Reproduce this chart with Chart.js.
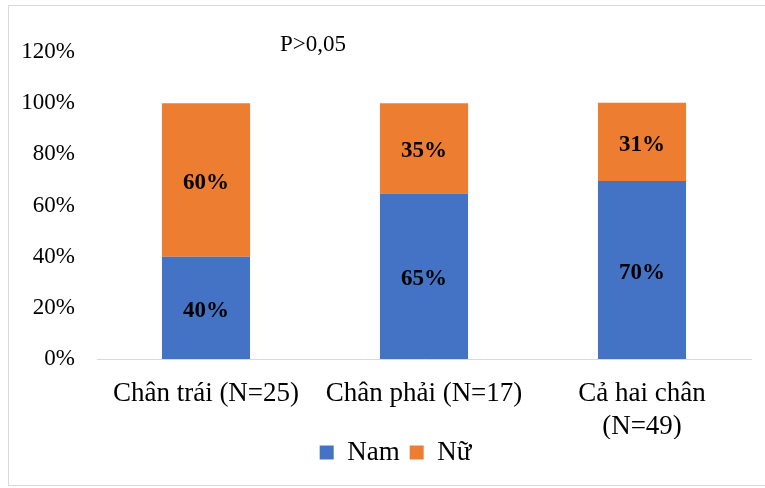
<!DOCTYPE html>
<html>
<head>
<meta charset="utf-8">
<script src="https://cdn.jsdelivr.net/npm/chart.js@4/dist/chart.umd.min.js"></script>
<style>
  body { margin: 0; background: #fff; }
  #wrap { position: relative; width: 765px; height: 488px; }
  #frame { position: absolute; left: 8px; top: 5px; width: 770px; height: 479px; border: 1px solid #d9d9d9; pointer-events: none; }
</style>
</head>
<body>
<div id="wrap">
  <canvas id="myChart" width="765" height="488"></canvas>
  <div id="frame"></div>
</div>
<script>
var categories = ['Chân trái (N=25)', 'Chân phải (N=17)', ['Cả hai chân', '(N=49)']];
var nam = [40, 64.7, 69.6];
var nu = [60, 35.3, 30.6];
var yTicks = [0, 20, 40, 60, 80, 100, 120];
var note = 'P>0,05';

var serif = "'Liberation Serif', 'Times New Roman', serif";

// bar value labels, drawn at the centre of each bar element
var barLabels = {
  id: 'barLabels',
  afterDatasetsDraw: function (chart) {
    var ctx = chart.ctx;
    ctx.save();
    ctx.font = 'bold 23px ' + serif;
    ctx.fillStyle = '#000';
    ctx.textAlign = 'center';
    ctx.textBaseline = 'middle';
    chart.data.datasets.forEach(function (ds, i) {
      chart.getDatasetMeta(i).data.forEach(function (bar, j) {
        var c = bar.getCenterPoint();
        ctx.fillText(Math.round(ds.data[j]) + '%', c.x, c.y + 3);
      });
    });
    // p-value note
    ctx.font = '23px ' + serif;
    ctx.fillText(note, 313, 45);
    ctx.restore();
  }
};

// nudge the legend a bit right and up, like the original
var legendShift = {
  id: 'legendShift',
  afterLayout: function (chart) {
    var lg = chart.legend;
    lg.left += 40;
    lg.top -= 10;
    lg.bottom -= 10;
  }
};

var ctx = document.getElementById('myChart').getContext('2d');
var myChart = new Chart(ctx, {
  type: 'bar',
  data: {
    labels: categories,
    datasets: [{
      label: 'Nam',
      data: nam,
      backgroundColor: '#4472C4'
    }, {
      label: 'Nữ',
      data: nu,
      backgroundColor: '#ED7D31'
    }]
  },
  options: {
    responsive: false,
    animation: false,
    events: [],
    categoryPercentage: 1,
    barPercentage: 0.404,
    layout: { padding: { left: 0, right: 14, top: 52, bottom: 2 } },
    plugins: {
      tooltip: { enabled: false },
      legend: {
        position: 'bottom',
        labels: {
          boxWidth: 14,
          boxHeight: 14,
          padding: 10,
          color: '#000',
          font: { family: serif, size: 27 }
        }
      }
    },
    scales: {
      x: {
        stacked: true,
        grid: { display: false },
        border: { color: '#d9d9d9', width: 1 },
        ticks: {
          color: '#000',
          padding: 11,
          maxRotation: 0,
          autoSkip: false,
          font: { family: serif, size: 27, lineHeight: 1.2 }
        },
        afterFit: function (s) { s.height = 80; }
      },
      y: {
        stacked: true,
        min: 0,
        max: 120,
        grid: { display: false, drawTicks: false },
        border: { display: false },
        afterBuildTicks: function (s) {
          s.ticks = yTicks.map(function (v) { return { value: v }; });
        },
        ticks: {
          color: '#000',
          padding: 22,
          font: { family: serif, size: 23 },
          callback: function (v) { return v + '%'; }
        },
        afterFit: function (s) { s.width = 97; }
      }
    }
  },
  plugins: [barLabels, legendShift]
});
</script>
</body>
</html>
